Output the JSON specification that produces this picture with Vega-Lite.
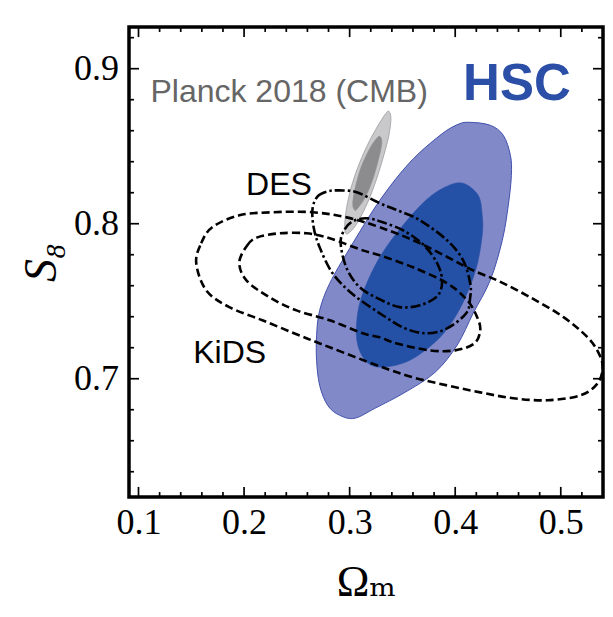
{
  "$schema": "https://vega.github.io/schema/vega-lite/v6.json",
  "width": 474,
  "height": 470,
  "autosize": {"type": "none"},
  "padding": {"left": 129, "top": 27, "right": 10, "bottom": 120},
  "background": "white",
  "config": {
    "view": {"stroke": "black", "strokeWidth": 3.5},
    "axis": {
      "grid": false, "domain": false, "ticks": false,
      "labelColor": "black", "titleColor": "black",
      "labelFont": "Liberation Serif", "titleFont": "Liberation Serif, DejaVu Serif",
      "labelFontSize": 36, "titleFontWeight": "normal",
      "labelFlush": false, "labelOverlap": false
    }
  },
  "datasets": {
    "contours": [
      {"contour": "HSC95", "i": 1, "om": 0.4142, "s8": 0.8654},
      {"contour": "HSC95", "i": 2, "om": 0.4332, "s8": 0.8635},
      {"contour": "HSC95", "i": 3, "om": 0.4456, "s8": 0.8570},
      {"contour": "HSC95", "i": 4, "om": 0.4523, "s8": 0.8441},
      {"contour": "HSC95", "i": 5, "om": 0.4532, "s8": 0.8312},
      {"contour": "HSC95", "i": 6, "om": 0.4503, "s8": 0.8119},
      {"contour": "HSC95", "i": 7, "om": 0.4446, "s8": 0.7893},
      {"contour": "HSC95", "i": 8, "om": 0.4332, "s8": 0.7635},
      {"contour": "HSC95", "i": 9, "om": 0.4170, "s8": 0.7422},
      {"contour": "HSC95", "i": 10, "om": 0.4018, "s8": 0.7216},
      {"contour": "HSC95", "i": 11, "om": 0.3809, "s8": 0.7041},
      {"contour": "HSC95", "i": 12, "om": 0.3524, "s8": 0.6912},
      {"contour": "HSC95", "i": 13, "om": 0.3239, "s8": 0.6809},
      {"contour": "HSC95", "i": 14, "om": 0.3048, "s8": 0.6745},
      {"contour": "HSC95", "i": 15, "om": 0.2906, "s8": 0.6764},
      {"contour": "HSC95", "i": 16, "om": 0.2792, "s8": 0.6828},
      {"contour": "HSC95", "i": 17, "om": 0.2716, "s8": 0.6957},
      {"contour": "HSC95", "i": 18, "om": 0.2687, "s8": 0.7119},
      {"contour": "HSC95", "i": 19, "om": 0.2687, "s8": 0.7280},
      {"contour": "HSC95", "i": 20, "om": 0.2716, "s8": 0.7441},
      {"contour": "HSC95", "i": 21, "om": 0.2811, "s8": 0.7615},
      {"contour": "HSC95", "i": 22, "om": 0.3001, "s8": 0.7841},
      {"contour": "HSC95", "i": 23, "om": 0.3286, "s8": 0.8151},
      {"contour": "HSC95", "i": 24, "om": 0.3571, "s8": 0.8396},
      {"contour": "HSC95", "i": 25, "om": 0.3856, "s8": 0.8570},
      {"contour": "HSC95", "i": 26, "om": 0.4027, "s8": 0.8641},

      {"contour": "HSC68", "i": 1, "om": 0.4075, "s8": 0.8261},
      {"contour": "HSC68", "i": 2, "om": 0.4218, "s8": 0.8183},
      {"contour": "HSC68", "i": 3, "om": 0.4256, "s8": 0.8054},
      {"contour": "HSC68", "i": 4, "om": 0.4256, "s8": 0.7925},
      {"contour": "HSC68", "i": 5, "om": 0.4199, "s8": 0.7712},
      {"contour": "HSC68", "i": 6, "om": 0.4085, "s8": 0.7507},
      {"contour": "HSC68", "i": 7, "om": 0.3952, "s8": 0.7349},
      {"contour": "HSC68", "i": 8, "om": 0.3800, "s8": 0.7230},
      {"contour": "HSC68", "i": 9, "om": 0.3571, "s8": 0.7119},
      {"contour": "HSC68", "i": 10, "om": 0.3334, "s8": 0.7075},
      {"contour": "HSC68", "i": 11, "om": 0.3172, "s8": 0.7101},
      {"contour": "HSC68", "i": 12, "om": 0.3077, "s8": 0.7217},
      {"contour": "HSC68", "i": 13, "om": 0.3068, "s8": 0.7377},
      {"contour": "HSC68", "i": 14, "om": 0.3125, "s8": 0.7552},
      {"contour": "HSC68", "i": 15, "om": 0.3286, "s8": 0.7785},
      {"contour": "HSC68", "i": 16, "om": 0.3505, "s8": 0.7990},
      {"contour": "HSC68", "i": 17, "om": 0.3733, "s8": 0.8158},
      {"contour": "HSC68", "i": 18, "om": 0.3923, "s8": 0.8242},

      {"contour": "Planck95", "i": 1, "om": 0.3372, "s8": 0.8725},
      {"contour": "Planck95", "i": 2, "om": 0.3391, "s8": 0.8680},
      {"contour": "Planck95", "i": 3, "om": 0.3372, "s8": 0.8571},
      {"contour": "Planck95", "i": 4, "om": 0.3324, "s8": 0.8442},
      {"contour": "Planck95", "i": 5, "om": 0.3258, "s8": 0.8294},
      {"contour": "Planck95", "i": 6, "om": 0.3172, "s8": 0.8139},
      {"contour": "Planck95", "i": 7, "om": 0.3077, "s8": 0.8010},
      {"contour": "Planck95", "i": 8, "om": 0.3001, "s8": 0.7945},
      {"contour": "Planck95", "i": 9, "om": 0.2963, "s8": 0.7938},
      {"contour": "Planck95", "i": 10, "om": 0.2953, "s8": 0.7990},
      {"contour": "Planck95", "i": 11, "om": 0.2972, "s8": 0.8106},
      {"contour": "Planck95", "i": 12, "om": 0.3020, "s8": 0.8248},
      {"contour": "Planck95", "i": 13, "om": 0.3096, "s8": 0.8396},
      {"contour": "Planck95", "i": 14, "om": 0.3191, "s8": 0.8538},
      {"contour": "Planck95", "i": 15, "om": 0.3287, "s8": 0.8654},
      {"contour": "Planck95", "i": 16, "om": 0.3344, "s8": 0.8712},

      {"contour": "Planck68", "i": 1, "om": 0.3286, "s8": 0.8564},
      {"contour": "Planck68", "i": 2, "om": 0.3305, "s8": 0.8519},
      {"contour": "Planck68", "i": 3, "om": 0.3267, "s8": 0.8397},
      {"contour": "Planck68", "i": 4, "om": 0.3210, "s8": 0.8268},
      {"contour": "Planck68", "i": 5, "om": 0.3143, "s8": 0.8164},
      {"contour": "Planck68", "i": 6, "om": 0.3077, "s8": 0.8100},
      {"contour": "Planck68", "i": 7, "om": 0.3048, "s8": 0.8087},
      {"contour": "Planck68", "i": 8, "om": 0.3029, "s8": 0.8132},
      {"contour": "Planck68", "i": 9, "om": 0.3058, "s8": 0.8248},
      {"contour": "Planck68", "i": 10, "om": 0.3115, "s8": 0.8377},
      {"contour": "Planck68", "i": 11, "om": 0.3191, "s8": 0.8486},
      {"contour": "Planck68", "i": 12, "om": 0.3248, "s8": 0.8545},

      {"contour": "KiDS95", "i": 1, "om": 0.1547, "s8": 0.7745},
      {"contour": "KiDS95", "i": 2, "om": 0.1594, "s8": 0.7874},
      {"contour": "KiDS95", "i": 3, "om": 0.1699, "s8": 0.7977},
      {"contour": "KiDS95", "i": 4, "om": 0.1955, "s8": 0.8054},
      {"contour": "KiDS95", "i": 5, "om": 0.2269, "s8": 0.8074},
      {"contour": "KiDS95", "i": 6, "om": 0.2649, "s8": 0.8074},
      {"contour": "KiDS95", "i": 7, "om": 0.2972, "s8": 0.8041},
      {"contour": "KiDS95", "i": 8, "om": 0.3286, "s8": 0.7977},
      {"contour": "KiDS95", "i": 9, "om": 0.3666, "s8": 0.7874},
      {"contour": "KiDS95", "i": 10, "om": 0.4170, "s8": 0.7699},
      {"contour": "KiDS95", "i": 11, "om": 0.4398, "s8": 0.7635},
      {"contour": "KiDS95", "i": 12, "om": 0.4712, "s8": 0.7525},
      {"contour": "KiDS95", "i": 13, "om": 0.5026, "s8": 0.7397},
      {"contour": "KiDS95", "i": 14, "om": 0.5254, "s8": 0.7267},
      {"contour": "KiDS95", "i": 15, "om": 0.5359, "s8": 0.7165},
      {"contour": "KiDS95", "i": 16, "om": 0.5397, "s8": 0.7074},
      {"contour": "KiDS95", "i": 17, "om": 0.5349, "s8": 0.6970},
      {"contour": "KiDS95", "i": 18, "om": 0.5188, "s8": 0.6893},
      {"contour": "KiDS95", "i": 19, "om": 0.4874, "s8": 0.6861},
      {"contour": "KiDS95", "i": 20, "om": 0.4551, "s8": 0.6874},
      {"contour": "KiDS95", "i": 21, "om": 0.4237, "s8": 0.6912},
      {"contour": "KiDS95", "i": 22, "om": 0.3923, "s8": 0.6957},
      {"contour": "KiDS95", "i": 23, "om": 0.3600, "s8": 0.7009},
      {"contour": "KiDS95", "i": 24, "om": 0.3286, "s8": 0.7080},
      {"contour": "KiDS95", "i": 25, "om": 0.2811, "s8": 0.7203},
      {"contour": "KiDS95", "i": 26, "om": 0.2497, "s8": 0.7287},
      {"contour": "KiDS95", "i": 27, "om": 0.2174, "s8": 0.7377},
      {"contour": "KiDS95", "i": 28, "om": 0.1860, "s8": 0.7462},
      {"contour": "KiDS95", "i": 29, "om": 0.1642, "s8": 0.7570},

      {"contour": "KiDS68", "i": 1, "om": 0.1955, "s8": 0.7751},
      {"contour": "KiDS68", "i": 2, "om": 0.2031, "s8": 0.7861},
      {"contour": "KiDS68", "i": 3, "om": 0.2126, "s8": 0.7912},
      {"contour": "KiDS68", "i": 4, "om": 0.2336, "s8": 0.7938},
      {"contour": "KiDS68", "i": 5, "om": 0.2592, "s8": 0.7938},
      {"contour": "KiDS68", "i": 6, "om": 0.2811, "s8": 0.7906},
      {"contour": "KiDS68", "i": 7, "om": 0.3125, "s8": 0.7828},
      {"contour": "KiDS68", "i": 8, "om": 0.3286, "s8": 0.7796},
      {"contour": "KiDS68", "i": 9, "om": 0.3600, "s8": 0.7719},
      {"contour": "KiDS68", "i": 10, "om": 0.3923, "s8": 0.7616},
      {"contour": "KiDS68", "i": 11, "om": 0.4113, "s8": 0.7507},
      {"contour": "KiDS68", "i": 12, "om": 0.4208, "s8": 0.7397},
      {"contour": "KiDS68", "i": 13, "om": 0.4237, "s8": 0.7312},
      {"contour": "KiDS68", "i": 14, "om": 0.4180, "s8": 0.7227},
      {"contour": "KiDS68", "i": 15, "om": 0.3999, "s8": 0.7183},
      {"contour": "KiDS68", "i": 16, "om": 0.3761, "s8": 0.7183},
      {"contour": "KiDS68", "i": 17, "om": 0.3448, "s8": 0.7227},
      {"contour": "KiDS68", "i": 18, "om": 0.3286, "s8": 0.7267},
      {"contour": "KiDS68", "i": 19, "om": 0.3125, "s8": 0.7293},
      {"contour": "KiDS68", "i": 20, "om": 0.2811, "s8": 0.7377},
      {"contour": "KiDS68", "i": 21, "om": 0.2497, "s8": 0.7441},
      {"contour": "KiDS68", "i": 22, "om": 0.2241, "s8": 0.7525},
      {"contour": "KiDS68", "i": 23, "om": 0.2022, "s8": 0.7635},

      {"contour": "DES95", "i": 1, "om": 0.2649, "s8": 0.8099},
      {"contour": "DES95", "i": 2, "om": 0.2697, "s8": 0.8177},
      {"contour": "DES95", "i": 3, "om": 0.2792, "s8": 0.8209},
      {"contour": "DES95", "i": 4, "om": 0.2906, "s8": 0.8215},
      {"contour": "DES95", "i": 5, "om": 0.3067, "s8": 0.8203},
      {"contour": "DES95", "i": 6, "om": 0.3286, "s8": 0.8132},
      {"contour": "DES95", "i": 7, "om": 0.3476, "s8": 0.8080},
      {"contour": "DES95", "i": 8, "om": 0.3666, "s8": 0.8022},
      {"contour": "DES95", "i": 9, "om": 0.3923, "s8": 0.7893},
      {"contour": "DES95", "i": 10, "om": 0.4075, "s8": 0.7764},
      {"contour": "DES95", "i": 11, "om": 0.4142, "s8": 0.7616},
      {"contour": "DES95", "i": 12, "om": 0.4142, "s8": 0.7525},
      {"contour": "DES95", "i": 13, "om": 0.4104, "s8": 0.7422},
      {"contour": "DES95", "i": 14, "om": 0.3923, "s8": 0.7325},
      {"contour": "DES95", "i": 15, "om": 0.3733, "s8": 0.7293},
      {"contour": "DES95", "i": 16, "om": 0.3524, "s8": 0.7325},
      {"contour": "DES95", "i": 17, "om": 0.3286, "s8": 0.7422},
      {"contour": "DES95", "i": 18, "om": 0.3030, "s8": 0.7545},
      {"contour": "DES95", "i": 19, "om": 0.2839, "s8": 0.7680},
      {"contour": "DES95", "i": 20, "om": 0.2716, "s8": 0.7848},
      {"contour": "DES95", "i": 21, "om": 0.2659, "s8": 0.7977},

      {"contour": "DES68", "i": 1, "om": 0.2915, "s8": 0.7874},
      {"contour": "DES68", "i": 2, "om": 0.2953, "s8": 0.7964},
      {"contour": "DES68", "i": 3, "om": 0.3030, "s8": 0.8016},
      {"contour": "DES68", "i": 4, "om": 0.3163, "s8": 0.8035},
      {"contour": "DES68", "i": 5, "om": 0.3315, "s8": 0.8009},
      {"contour": "DES68", "i": 6, "om": 0.3524, "s8": 0.7951},
      {"contour": "DES68", "i": 7, "om": 0.3714, "s8": 0.7854},
      {"contour": "DES68", "i": 8, "om": 0.3838, "s8": 0.7732},
      {"contour": "DES68", "i": 9, "om": 0.3876, "s8": 0.7622},
      {"contour": "DES68", "i": 10, "om": 0.3828, "s8": 0.7531},
      {"contour": "DES68", "i": 11, "om": 0.3666, "s8": 0.7474},
      {"contour": "DES68", "i": 12, "om": 0.3476, "s8": 0.7462},
      {"contour": "DES68", "i": 13, "om": 0.3286, "s8": 0.7512},
      {"contour": "DES68", "i": 14, "om": 0.3096, "s8": 0.7590},
      {"contour": "DES68", "i": 15, "om": 0.2972, "s8": 0.7712}
    ],
    "labels": [
      {"text": "HSC", "kind": "hsc", "om": 0.4075, "s8": 0.8798},
      {"text": "Planck 2018 (CMB)", "kind": "planck", "om": 0.1113, "s8": 0.8785},
      {"text": "DES", "kind": "survey", "om": 0.2019, "s8": 0.8183},
      {"text": "KiDS", "kind": "survey", "om": 0.1518, "s8": 0.7103}
    ],
    "ticks": [
      {"axis": "x", "kind": "major", "value": 0.1},
      {"axis": "x", "kind": "major", "value": 0.2},
      {"axis": "x", "kind": "major", "value": 0.3},
      {"axis": "x", "kind": "major", "value": 0.4},
      {"axis": "x", "kind": "major", "value": 0.5},
      {"axis": "x", "kind": "minor", "value": 0.12},
      {"axis": "x", "kind": "minor", "value": 0.14},
      {"axis": "x", "kind": "minor", "value": 0.16},
      {"axis": "x", "kind": "minor", "value": 0.18},
      {"axis": "x", "kind": "minor", "value": 0.22},
      {"axis": "x", "kind": "minor", "value": 0.24},
      {"axis": "x", "kind": "minor", "value": 0.26},
      {"axis": "x", "kind": "minor", "value": 0.28},
      {"axis": "x", "kind": "minor", "value": 0.32},
      {"axis": "x", "kind": "minor", "value": 0.34},
      {"axis": "x", "kind": "minor", "value": 0.36},
      {"axis": "x", "kind": "minor", "value": 0.38},
      {"axis": "x", "kind": "minor", "value": 0.42},
      {"axis": "x", "kind": "minor", "value": 0.44},
      {"axis": "x", "kind": "minor", "value": 0.46},
      {"axis": "x", "kind": "minor", "value": 0.48},
      {"axis": "x", "kind": "minor", "value": 0.52},
      {"axis": "y", "kind": "major", "value": 0.7},
      {"axis": "y", "kind": "major", "value": 0.8},
      {"axis": "y", "kind": "major", "value": 0.9},
      {"axis": "y", "kind": "minor", "value": 0.64},
      {"axis": "y", "kind": "minor", "value": 0.66},
      {"axis": "y", "kind": "minor", "value": 0.68},
      {"axis": "y", "kind": "minor", "value": 0.72},
      {"axis": "y", "kind": "minor", "value": 0.74},
      {"axis": "y", "kind": "minor", "value": 0.76},
      {"axis": "y", "kind": "minor", "value": 0.78},
      {"axis": "y", "kind": "minor", "value": 0.82},
      {"axis": "y", "kind": "minor", "value": 0.84},
      {"axis": "y", "kind": "minor", "value": 0.86},
      {"axis": "y", "kind": "minor", "value": 0.88},
      {"axis": "y", "kind": "minor", "value": 0.92}
    ]
  },
  "layer": [
    {
      "data": {"name": "contours"},
      "transform": [{"filter": "datum.contour === 'HSC95'"}],
      "mark": {"type": "line", "filled": true, "fill": "#8189c9", "stroke": "#4252ad", "strokeWidth": 1, "interpolate": "cardinal-closed"},
      "encoding": {
        "x": {"field": "om", "type": "quantitative", "scale": {"domain": [0.091, 0.540], "nice": false, "zero": false},
          "axis": {"orient": "bottom", "values": [0.1, 0.2, 0.3, 0.4, 0.5], "format": ".1f", "labelPadding": 8, "title": "Ωₘ", "titleFontSize": 44, "titlePadding": 20}},
        "y": {"field": "s8", "type": "quantitative", "scale": {"domain": [0.6237, 0.9269], "nice": false, "zero": false},
          "axis": {"orient": "left", "values": [0.7, 0.8, 0.9], "format": ".1f", "labelPadding": 10.5, "title": "S₈", "titleFontSize": 46, "titleFontStyle": "italic", "titlePadding": 8}},
        "order": {"field": "i", "type": "quantitative"}
      }
    },
    {
      "data": {"name": "contours"},
      "transform": [{"filter": "datum.contour === 'HSC68'"}],
      "mark": {"type": "line", "filled": true, "fill": "#2451a5", "stroke": "#2451a5", "strokeWidth": 0.5, "interpolate": "cardinal-closed"},
      "encoding": {
        "x": {"field": "om", "type": "quantitative"},
        "y": {"field": "s8", "type": "quantitative"},
        "order": {"field": "i", "type": "quantitative"}
      }
    },
    {
      "data": {"name": "contours"},
      "transform": [{"filter": "datum.contour === 'Planck95'"}],
      "mark": {"type": "line", "filled": true, "fill": "#c9c9cb", "stroke": "#9c9c9e", "strokeWidth": 0.8, "interpolate": "cardinal-closed"},
      "encoding": {
        "x": {"field": "om", "type": "quantitative"},
        "y": {"field": "s8", "type": "quantitative"},
        "order": {"field": "i", "type": "quantitative"}
      }
    },
    {
      "data": {"name": "contours"},
      "transform": [{"filter": "datum.contour === 'Planck68'"}],
      "mark": {"type": "line", "filled": true, "fill": "#8c8c8e", "stroke": "#8c8c8e", "strokeWidth": 0.5, "interpolate": "cardinal-closed"},
      "encoding": {
        "x": {"field": "om", "type": "quantitative"},
        "y": {"field": "s8", "type": "quantitative"},
        "order": {"field": "i", "type": "quantitative"}
      }
    },
    {
      "data": {"name": "contours"},
      "transform": [{"filter": "datum.contour === 'KiDS95' || datum.contour === 'KiDS68'"}],
      "mark": {"type": "line", "stroke": "black", "strokeWidth": 2.6, "strokeDash": [8, 4], "interpolate": "cardinal-closed", "clip": true},
      "encoding": {
        "x": {"field": "om", "type": "quantitative"},
        "y": {"field": "s8", "type": "quantitative"},
        "detail": {"field": "contour", "type": "nominal"},
        "order": {"field": "i", "type": "quantitative"}
      }
    },
    {
      "data": {"name": "contours"},
      "transform": [{"filter": "datum.contour === 'DES95' || datum.contour === 'DES68'"}],
      "mark": {"type": "line", "stroke": "black", "strokeWidth": 2.6, "strokeDash": [10, 3, 2.5, 3], "interpolate": "cardinal-closed"},
      "encoding": {
        "x": {"field": "om", "type": "quantitative"},
        "y": {"field": "s8", "type": "quantitative"},
        "detail": {"field": "contour", "type": "nominal"},
        "order": {"field": "i", "type": "quantitative"}
      }
    },
    {
      "data": {"name": "labels"},
      "transform": [{"filter": "datum.kind === 'hsc'"}],
      "mark": {"type": "text", "align": "left", "baseline": "alphabetic", "font": "Liberation Sans", "fontSize": 51, "fontWeight": "bold", "color": "#2b4fa6"},
      "encoding": {
        "x": {"field": "om", "type": "quantitative"},
        "y": {"field": "s8", "type": "quantitative"},
        "text": {"field": "text"}
      }
    },
    {
      "data": {"name": "labels"},
      "transform": [{"filter": "datum.kind === 'planck'"}],
      "mark": {"type": "text", "align": "left", "baseline": "alphabetic", "font": "Liberation Sans", "fontSize": 32, "color": "#666666"},
      "encoding": {
        "x": {"field": "om", "type": "quantitative"},
        "y": {"field": "s8", "type": "quantitative"},
        "text": {"field": "text"}
      }
    },
    {
      "data": {"name": "labels"},
      "transform": [{"filter": "datum.kind === 'survey'"}],
      "mark": {"type": "text", "align": "left", "baseline": "alphabetic", "font": "Liberation Sans", "fontSize": 32, "color": "black"},
      "encoding": {
        "x": {"field": "om", "type": "quantitative"},
        "y": {"field": "s8", "type": "quantitative"},
        "text": {"field": "text"}
      }
    },
    {
      "data": {"name": "ticks"},
      "transform": [{"filter": "datum.axis === 'x' && datum.kind === 'major'"}],
      "layer": [
        {"mark": {"type": "rule", "color": "black", "strokeWidth": 1.7},
         "encoding": {"x": {"field": "value", "type": "quantitative"}, "y": {"datum": 0.6237, "type": "quantitative"}, "y2": {"datum": 0.6302}}},
        {"mark": {"type": "rule", "color": "black", "strokeWidth": 1.7},
         "encoding": {"x": {"field": "value", "type": "quantitative"}, "y": {"datum": 0.9269, "type": "quantitative"}, "y2": {"datum": 0.9204}}}
      ]
    },
    {
      "data": {"name": "ticks"},
      "transform": [{"filter": "datum.axis === 'x' && datum.kind === 'minor'"}],
      "layer": [
        {"mark": {"type": "rule", "color": "black", "strokeWidth": 1.7},
         "encoding": {"x": {"field": "value", "type": "quantitative"}, "y": {"datum": 0.6237, "type": "quantitative"}, "y2": {"datum": 0.6269}}},
        {"mark": {"type": "rule", "color": "black", "strokeWidth": 1.7},
         "encoding": {"x": {"field": "value", "type": "quantitative"}, "y": {"datum": 0.9269, "type": "quantitative"}, "y2": {"datum": 0.9237}}}
      ]
    },
    {
      "data": {"name": "ticks"},
      "transform": [{"filter": "datum.axis === 'y' && datum.kind === 'major'"}],
      "layer": [
        {"mark": {"type": "rule", "color": "black", "strokeWidth": 1.7},
         "encoding": {"y": {"field": "value", "type": "quantitative"}, "x": {"datum": 0.091, "type": "quantitative"}, "x2": {"datum": 0.1005}}},
        {"mark": {"type": "rule", "color": "black", "strokeWidth": 1.7},
         "encoding": {"y": {"field": "value", "type": "quantitative"}, "x": {"datum": 0.540, "type": "quantitative"}, "x2": {"datum": 0.5305}}}
      ]
    },
    {
      "data": {"name": "ticks"},
      "transform": [{"filter": "datum.axis === 'y' && datum.kind === 'minor'"}],
      "layer": [
        {"mark": {"type": "rule", "color": "black", "strokeWidth": 1.7},
         "encoding": {"y": {"field": "value", "type": "quantitative"}, "x": {"datum": 0.091, "type": "quantitative"}, "x2": {"datum": 0.0957}}},
        {"mark": {"type": "rule", "color": "black", "strokeWidth": 1.7},
         "encoding": {"y": {"field": "value", "type": "quantitative"}, "x": {"datum": 0.540, "type": "quantitative"}, "x2": {"datum": 0.5353}}}
      ]
    }
  ]
}
